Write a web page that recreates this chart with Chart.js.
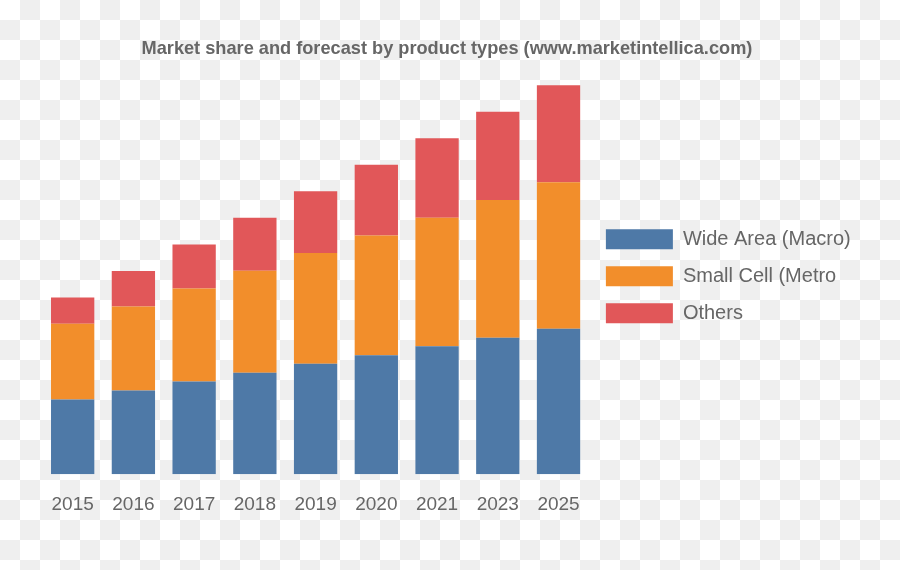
<!DOCTYPE html>
<html>
<head>
<meta charset="utf-8">
<script src="https://cdn.jsdelivr.net/npm/chart.js@4"></script>
<style>
  html, body { margin: 0; padding: 0; }
  body {
    width: 900px; height: 570px; overflow: hidden;
    background-color: #ffffff;
    background-image: url("data:image/svg+xml,%3Csvg xmlns='http://www.w3.org/2000/svg' width='40' height='40'%3E%3Crect x='20' y='0' width='20' height='20' fill='%23efefef'/%3E%3Crect x='0' y='20' width='20' height='20' fill='%23efefef'/%3E%3C/svg%3E");
    background-size: 40px 40px;
    background-position: 0 0;
    background-repeat: repeat;
  }
  #wrap { width: 900px; height: 570px; position: relative; }
</style>
</head>
<body>
<div id="wrap"><canvas id="c" width="900" height="570"></canvas></div>
<script>
const categories = ["2015", "2016", "2017", "2018", "2019", "2020", "2021", "2023", "2025"];
const wideArea  = [7.47, 8.37, 9.27, 10.13, 11.03, 11.90, 12.80, 13.63, 14.53];
const smallCell = [7.56, 8.40, 9.30, 10.20, 11.07, 11.97, 12.83, 13.77, 14.64];
const others    = [2.64, 3.53, 4.40, 5.30, 6.17, 7.06, 7.94, 8.83, 9.70];
const seriesNames = ["Wide Area (Macro)", "Small Cell (Metro", "Others"];
const titleText = "Market share and forecast by product types (www.marketintellica.com)";

const textColor = "#666666";
const fontFamily = "'Liberation Sans', Arial, sans-serif";

new Chart(document.getElementById("c"), {
  type: "bar",
  data: {
    labels: categories,
    datasets: [
      { label: seriesNames[0], data: wideArea,  backgroundColor: "#4e79a7" },
      { label: seriesNames[1], data: smallCell, backgroundColor: "#f28e2b" },
      { label: seriesNames[2], data: others,    backgroundColor: "#e15759" }
    ]
  },
  options: {
    responsive: false,
    animation: false,
    layout: { padding: { left: 42.3, right: 39.3, top: 0, bottom: 35 } },
    datasets: { bar: { categoryPercentage: 1.0, barPercentage: 0.713 } },
    scales: {
      x: {
        stacked: true,
        grid: { display: false, drawTicks: false },
        border: { display: false },
        ticks: { color: textColor, font: { family: fontFamily, size: 19 }, padding: 19 }
      },
      y: {
        stacked: true,
        display: false,
        min: 0,
        max: 40
      }
    },
    plugins: {
      title: {
        display: true,
        text: titleText + "\u2002",
        color: textColor,
        font: { family: fontFamily, size: 18.2, weight: "bold" },
        padding: { top: 38, bottom: 14.16 }
      },
      legend: {
        position: "right",
        fullSize: false,
        title: { display: true, text: " ", font: { size: 2 }, padding: 1 },
        labels: {
          color: textColor,
          font: { family: fontFamily, size: 20 },
          boxWidth: 67,
          boxHeight: 20,
          padding: 17
        }
      },
      tooltip: { enabled: false }
    }
  }
});
</script>
</body>
</html>
